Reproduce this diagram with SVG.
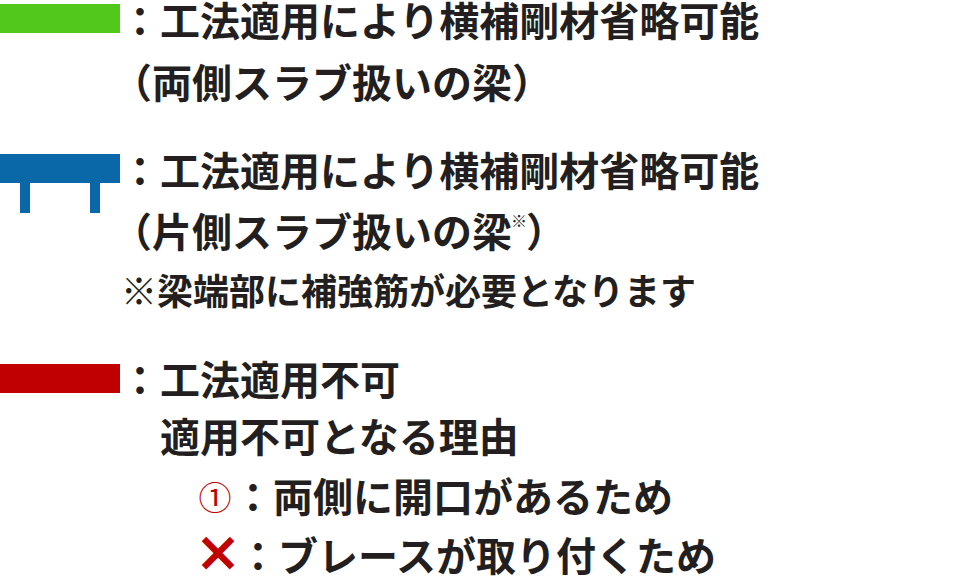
<svg xmlns="http://www.w3.org/2000/svg" width="956" height="576" viewBox="0 0 956 576">
<style>
.t{font-family:"Noto Sans CJK JP","Noto Sans CJK SC",sans-serif;font-weight:700;font-size:40px;fill:#231f20}
.s{font-size:36px}
.sup{font-size:16px}
.red{fill:#c00000}
.num{font-family:"Noto Sans CJK JP",sans-serif;font-weight:400;font-size:33px;fill:#c00000}
</style>
<rect width="956" height="576" fill="#ffffff"/>
<g id="legend-green">
<rect x="0" y="4" width="120" height="29" fill="#52c81c"/>
<text class="t" x="120" y="36">：工法適用により横補剛材省略可能</text>
<text class="t" x="112" y="98">（<tspan x="152">両側スラブ扱いの梁）</tspan></text>
</g>
<g id="legend-blue">
<rect x="0" y="154" width="120" height="29" fill="#0a68a8"/>
<rect x="20" y="183" width="10" height="30" fill="#0a68a8"/>
<rect x="90" y="183" width="10" height="30" fill="#0a68a8"/>
<text class="t" x="120" y="186">：工法適用により横補剛材省略可能</text>
<text class="t" x="112" y="247">（<tspan x="152">片側スラブ扱いの梁</tspan><tspan class="sup" x="511" y="227">※</tspan><tspan x="526" y="247">）</tspan></text>
<text class="t s" x="121" y="305">※梁端部に補強筋が必要となります</text>
</g>
<g id="legend-red">
<rect x="0" y="364" width="120" height="29" fill="#c00000"/>
<text class="t" x="120" y="395">：工法適用不可</text>
<text class="t" x="160" y="452">適用不可となる理由</text>
<text class="num" x="215" y="510" text-anchor="middle">①</text>
<text class="t" x="233" y="512">：両側に開口があるため</text>
<text class="t red" x="218" y="570" text-anchor="middle" style="font-size:46px;stroke:#c00000;stroke-width:1.6px">×</text>
<text class="t" x="238" y="571">：ブレースが取り付くため</text>
</g>
</svg>
